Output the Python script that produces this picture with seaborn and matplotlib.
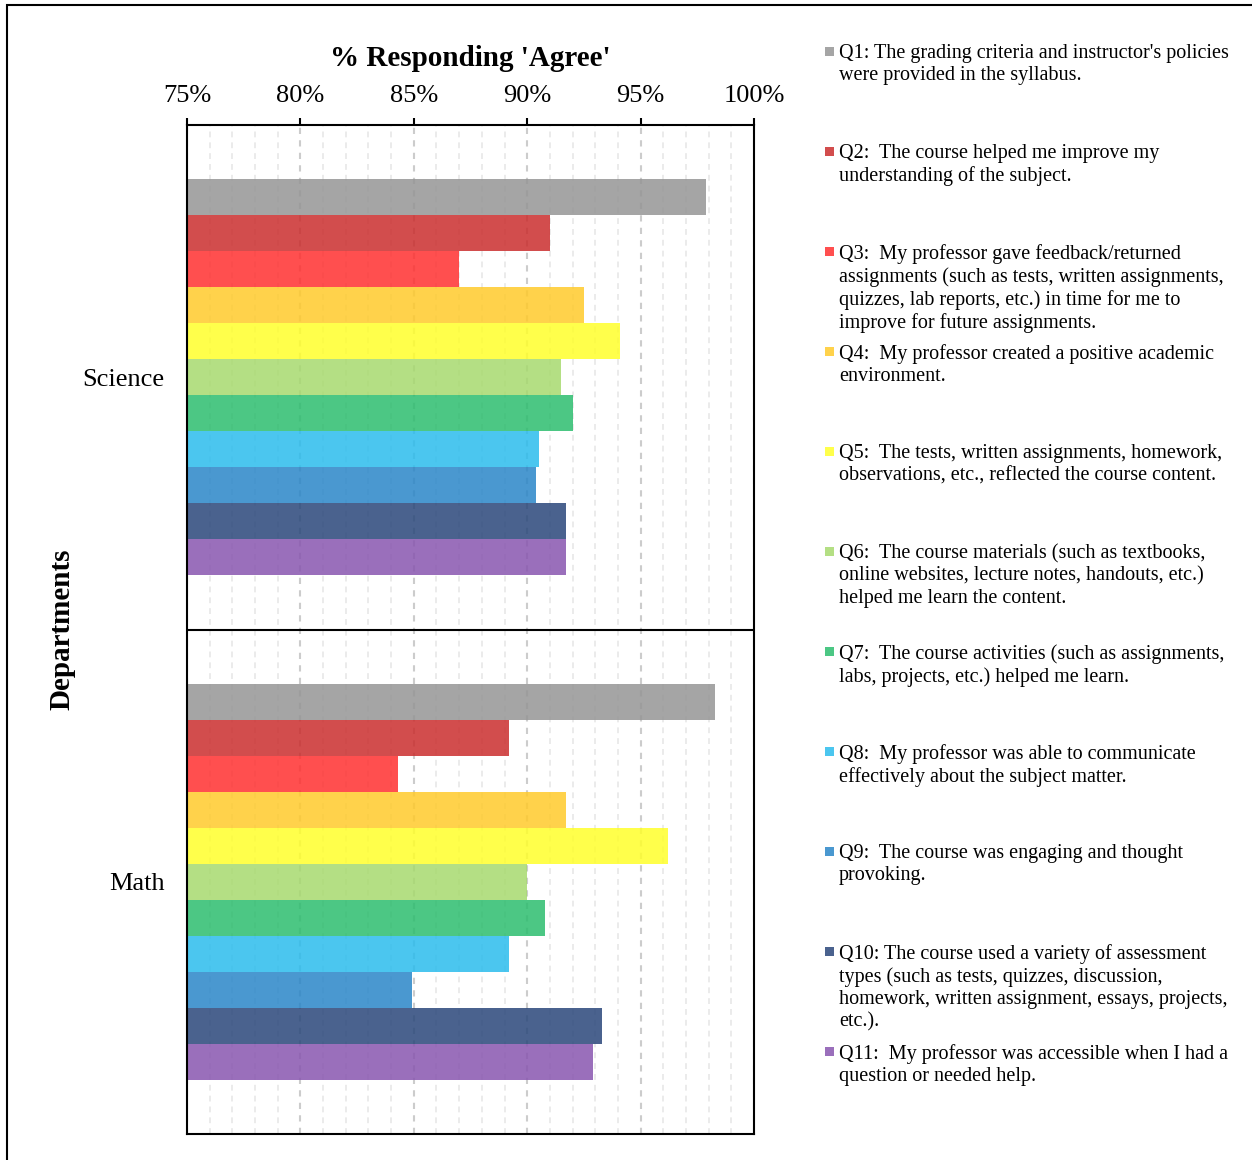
import matplotlib
matplotlib.use("Agg")
import matplotlib.pyplot as plt
import seaborn as sns
import pandas as pd
from matplotlib.ticker import MultipleLocator, FuncFormatter
from matplotlib.patches import Rectangle

# data
departments = ["Science", "Math"]
questions = ["Q1", "Q2", "Q3", "Q4", "Q5", "Q6", "Q7", "Q8", "Q9", "Q10", "Q11"]
science = [97.9, 91.0, 87.0, 92.5, 94.1, 91.5, 92.0, 90.5, 90.4, 91.7, 91.7]
math_vals = [98.3, 89.2, 84.3, 91.7, 96.2, 90.0, 90.8, 89.2, 84.9, 93.3, 92.9]

colors = ["#959595", "#CA2E2E", "#FF3030", "#FFCA2B", "#FFFF2B", "#A7DA6E",
          "#2CBD6E", "#2BBCED", "#2A86C8", "#2A477A", "#8856AF"]

labels = [
    "Q1: The grading criteria and instructor's policies\nwere provided in the syllabus.",
    "Q2:  The course helped me improve my\nunderstanding of the subject.",
    "Q3:  My professor gave feedback/returned\nassignments (such as tests, written assignments,\nquizzes, lab reports, etc.) in time for me to\nimprove for future assignments.",
    "Q4:  My professor created a positive academic\nenvironment.",
    "Q5:  The tests, written assignments, homework,\nobservations, etc., reflected the course content.",
    "Q6:  The course materials (such as textbooks,\nonline websites, lecture notes, handouts, etc.)\nhelped me learn the content.",
    "Q7:  The course activities (such as assignments,\nlabs, projects, etc.) helped me learn.",
    "Q8:  My professor was able to communicate\neffectively about the subject matter.",
    "Q9:  The course was engaging and thought\nprovoking.",
    "Q10: The course used a variety of assessment\ntypes (such as tests, quizzes, discussion,\nhomework, written assignment, essays, projects,\netc.).",
    "Q11:  My professor was accessible when I had a\nquestion or needed help.",
]

sns.set_theme(style="white")
plt.rcParams["font.family"] = ["Liberation Serif", "DejaVu Serif"]
plt.rcParams["text.color"] = "black"
plt.rcParams["axes.labelcolor"] = "black"

rows = []
for dep, vals in zip(departments, [science, math_vals]):
    for q, v in zip(questions, vals):
        rows.append({"Department": dep, "Question": q, "Agree": v})
df = pd.DataFrame(rows)

W, H = 1252, 1160
fig = plt.figure(figsize=(W / 100, H / 100), dpi=100)
ax = fig.add_axes([187 / W, 1 - 1134 / H, (754 - 187) / W, (1134 - 125) / H])

sns.barplot(data=df, y="Department", x="Agree", hue="Question",
            order=departments, hue_order=questions, palette=colors,
            orient="h", width=0.784, saturation=1, alpha=0.85,
            linewidth=0, legend=False, ax=ax)

ax.set_xlim(75, 100)
ax.set_ylim(1.5, -0.5)
ax.axhline(0.5, color="black", lw=1.5, zorder=5)

# x axis on top
ax.xaxis.tick_top()
ax.xaxis.set_label_position("top")
ax.xaxis.set_major_locator(MultipleLocator(5))
ax.xaxis.set_minor_locator(MultipleLocator(1))
ax.xaxis.set_major_formatter(FuncFormatter(lambda v, p: f"{int(v)}%"))
ax.tick_params(axis="x", which="major", direction="out", length=5, width=1.5,
               colors="black", labelsize=19, pad=8, top=True, bottom=False)
ax.tick_params(axis="x", which="minor", length=0)
ax.tick_params(axis="y", length=0, labelsize=19, pad=16, colors="black")

ax.set_axisbelow(True)
ax.grid(axis="x", which="major", color="#cccccc", lw=1.5, ls=(0, (3, 3)))
ax.grid(axis="x", which="minor", color="#e8e8e8", lw=1.2, ls=(0, (3.5, 3)))
ax.grid(axis="y", visible=False)

for s in ax.spines.values():
    s.set_color("black")
    s.set_linewidth(1.5)

ax.set_xlabel("% Responding 'Agree'", fontsize=21, fontweight="bold", labelpad=14)
ax.set_ylabel("Departments", fontsize=21, fontweight="bold", labelpad=5.5)

# legend on the right
for i, (lab, c) in enumerate(zip(labels, colors)):
    top = 47 + 100 * i
    fig.patches.append(Rectangle((825 / W, 1 - (top + 9) / H), 9 / W, 9 / H,
                                 transform=fig.transFigure, facecolor=c,
                                 alpha=0.85, edgecolor="none"))
    fig.text(839 / W, 1 - (44 + 100 * i) / H, lab, fontsize=14.5,
             va="top", ha="left", linespacing=1.22, color="black")

# outer frame
fig.patches.append(Rectangle((7 / W, -0.05), 1.2, 1.05 - 5 / H, fill=False,
                             edgecolor="black", lw=1.5,
                             transform=fig.transFigure))

fig.savefig("out.png", dpi=100)
